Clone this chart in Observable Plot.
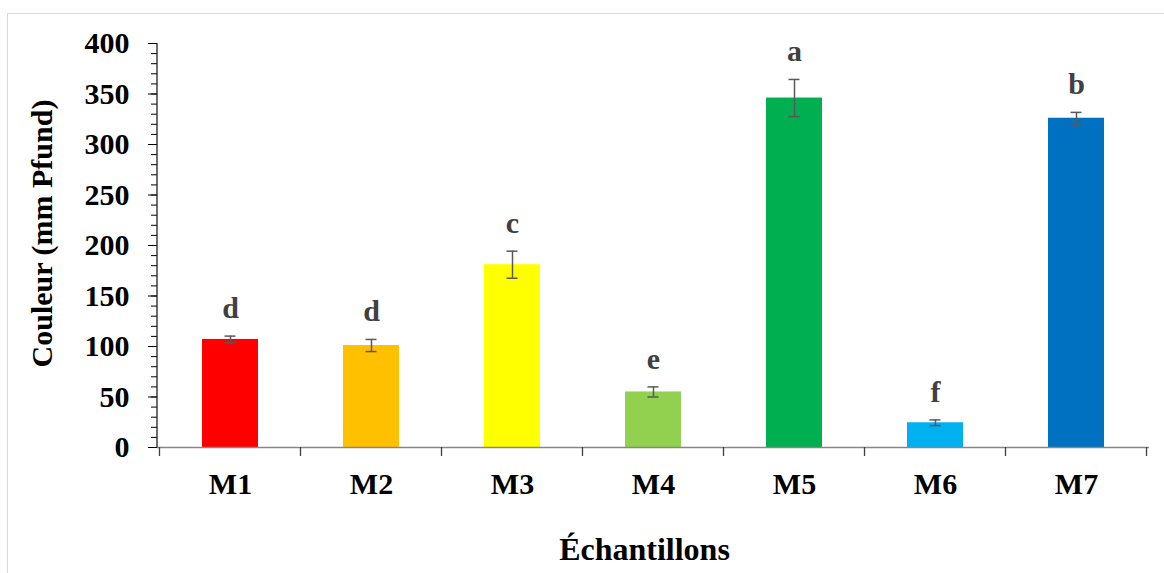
<!DOCTYPE html>
<html>
<head>
<meta charset="utf-8">
<script src="https://cdn.jsdelivr.net/npm/d3@7"></script>
<script src="https://cdn.jsdelivr.net/npm/@observablehq/plot@0.6"></script>
<style>
  html, body { margin: 0; padding: 0; background: #fff; overflow: hidden; width: 1164px; height: 573px; }
  #frame { position: absolute; left: 7px; top: 13px; width: 1200px; height: 620px; border: 1px solid #d9d9d9; box-sizing: border-box; }
  #chart { position: absolute; left: 0; top: 0; }
</style>
</head>
<body>
<div id="frame"></div>
<div id="chart"></div>
<script>
const categories = ["M1", "M2", "M3", "M4", "M5", "M6", "M7"];
const means = [107, 101, 181, 55, 346, 24.5, 326];
const errors = [3.3, 6, 13.4, 5, 18.4, 2.8, 5.8];
const letters = ["d", "d", "c", "e", "a", "f", "b"];
const colors = ["#FF0000", "#FFC000", "#FFFF00", "#92D050", "#00B050", "#00B0F0", "#0070C0"];
const yTicks = [0, 50, 100, 150, 200, 250, 300, 350, 400];
const yMinorTicks = d3.range(0, 401, 10);
const yTitle = "Couleur (mm Pfund)";
const xTitle = "Échantillons";

const data = categories.map((c, i) => ({
  cat: c, mean: means[i], err: errors[i], letter: letters[i],
  lo: means[i] - errors[i], hi: means[i] + errors[i]
}));

const serif = "'Liberation Serif', 'Times New Roman', serif";
const errColor = "#595959";

const plot = Plot.plot({
  width: 1164,
  height: 573,
  marginLeft: 157,
  marginRight: 15,
  marginTop: 43,
  marginBottom: 126,
  style: { fontFamily: serif, background: "transparent", overflow: "visible" },
  x: { domain: categories, paddingInner: 0.6, paddingOuter: 0.3, axis: null },
  y: { domain: [0, 400], axis: null },
  color: { domain: categories, range: colors },
  marks: [
    Plot.barY(data, { x: "cat", y: "mean", fill: "cat" }),
    Plot.ruleX(data, { x: "cat", y1: "lo", y2: "hi", stroke: errColor, strokeWidth: 1.5 }),
    Plot.tickY(data, { x: "cat", y: "lo", inset: 22.5, stroke: errColor, strokeWidth: 1.5 }),
    Plot.tickY(data, { x: "cat", y: "hi", inset: 22.5, stroke: errColor, strokeWidth: 1.5 }),
    Plot.text(data, { x: "cat", y: "hi", text: "letter", lineAnchor: "bottom", dy: -18,
      fontSize: 30, fontWeight: "bold", fill: "#404040" }),
    Plot.ruleY([0], { stroke: "#868686", strokeWidth: 1.5 }),
    Plot.axisY({ ticks: yMinorTicks, tickSize: 6, tickFormat: () => "", color: "black", label: null }),
    Plot.axisY({ ticks: yTicks, tickSize: 9, tickPadding: 19, fontSize: 30, fontWeight: "bold",
      color: "black", label: null }),
    Plot.axisX({ tickSize: 0, tickPadding: 25, fontSize: 30, fontWeight: "bold", color: "black", label: null }),
    Plot.text([yTitle], { frameAnchor: "left", textAnchor: "middle", rotate: -90, dx: -115, dy: -12, text: d => d,
      fontSize: 30, fontWeight: "bold", fill: "black" }),
    Plot.text([xTitle], { frameAnchor: "bottom", lineAnchor: "bottom", dx: -9, dy: 112, text: d => d,
      fontSize: 32, fontWeight: "bold", fill: "black" })
  ]
});

// axis lines and category boundary ticks, placed with the plot's own scales
const sx = plot.scale("x");
const sy = plot.scale("y");
const svg = d3.select(plot);
const y0 = sy.apply(0), yTop = sy.apply(400);
const x0 = sx.range[0];
const gap = (sx.step - sx.bandwidth) / 2;
const bounds = categories.map(c => sx.apply(c) - gap);
bounds.push(sx.apply(categories[categories.length - 1]) + sx.bandwidth + gap);
const g = svg.append("g");
g.selectAll("line.xt").data(bounds).join("line")
  .attr("x1", d => d).attr("x2", d => d).attr("y1", y0).attr("y2", y0 + 9)
  .attr("stroke", "#404040").attr("stroke-width", 1.3);
g.append("line").attr("x1", x0).attr("x2", x0).attr("y1", yTop).attr("y2", y0)
  .attr("stroke", "#202020").attr("stroke-width", 1.3);

document.getElementById("chart").appendChild(plot);
</script>
</body>
</html>
